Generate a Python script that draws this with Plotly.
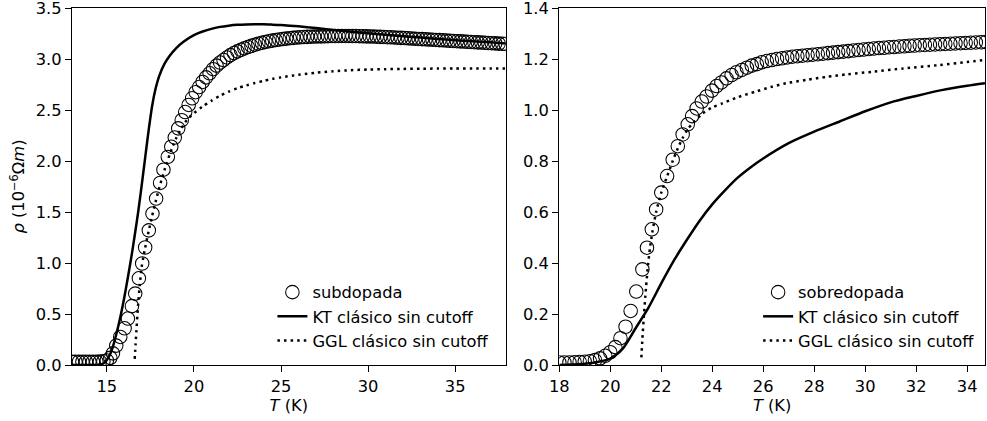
import plotly.graph_objects as go

# ---------------- data: left panel (subdopada) ----------------
sub_T = [13.0, 13.2, 13.4, 13.6, 13.8, 14.0, 14.2, 14.4, 14.6, 14.8, 15.0, 15.2,
         15.35, 15.54, 15.77, 16.02, 16.21, 16.44, 16.63, 16.84, 17.03, 17.2, 17.41, 17.62, 17.83, 18.06, 18.25,
         18.5, 18.7, 18.9, 19.1, 19.3, 19.5, 19.7, 19.9, 20.1, 20.3,
         20.5, 20.7, 20.9, 21.1, 21.3, 21.5, 21.7, 21.9, 22.1, 22.3,
         22.5, 22.7, 22.9, 23.1, 23.3, 23.5, 23.7, 23.9, 24.1, 24.3,
         24.5, 24.7, 24.9, 25.1, 25.3, 25.5, 25.7, 25.9, 26.1, 26.3,
         26.5, 26.7, 26.9, 27.1, 27.3, 27.5, 27.7, 27.9, 28.1, 28.3,
         28.5, 28.7, 28.9, 29.1, 29.3, 29.5, 29.7, 29.9, 30.1, 30.3,
         30.5, 30.7, 30.9, 31.1, 31.3, 31.5, 31.7, 31.9, 32.1, 32.3,
         32.5, 32.7, 32.9, 33.1, 33.3, 33.5, 33.7, 33.9, 34.1, 34.3,
         34.5, 34.7, 34.9, 35.1, 35.3, 35.5, 35.7, 35.9, 36.1, 36.3,
         36.5, 36.7, 36.9, 37.1, 37.3, 37.5, 37.7, 37.9]
sub_rho = [0.032, 0.032, 0.032, 0.032, 0.032, 0.032, 0.032, 0.032, 0.033, 0.036, 0.045, 0.07,
           0.114, 0.19, 0.275, 0.36, 0.455, 0.577, 0.70, 0.85, 0.995, 1.152, 1.32, 1.485, 1.632, 1.785, 1.915,
           2.04, 2.14, 2.23, 2.32, 2.40, 2.48, 2.55, 2.615, 2.675, 2.725,
           2.775, 2.82, 2.86, 2.90, 2.935, 2.965, 2.99, 3.015, 3.038, 3.058,
           3.075, 3.09, 3.104, 3.117, 3.129, 3.14, 3.15, 3.159, 3.167, 3.174,
           3.18, 3.186, 3.191, 3.196, 3.2, 3.204, 3.207, 3.21, 3.213, 3.215,
           3.217, 3.219, 3.22, 3.221, 3.222, 3.223, 3.224, 3.225, 3.225, 3.226,
           3.226, 3.226, 3.226, 3.225, 3.225, 3.224, 3.223, 3.222, 3.221, 3.22,
           3.219, 3.217, 3.216, 3.214, 3.213, 3.211, 3.209, 3.207, 3.205, 3.203,
           3.201, 3.199, 3.197, 3.195, 3.193, 3.191, 3.189, 3.187, 3.185, 3.183,
           3.181, 3.179, 3.177, 3.175, 3.173, 3.171, 3.169, 3.167, 3.165, 3.163,
           3.161, 3.159, 3.157, 3.155, 3.153, 3.151, 3.149, 3.147]

kt1_T = [13.0, 14.0, 14.4, 14.6, 14.8, 15.0, 15.2, 15.4, 15.6, 15.8, 16.0, 16.2, 16.4, 16.6, 16.8,
         17.0, 17.2, 17.4, 17.6, 17.8, 18.0, 18.3, 18.6, 19.0, 19.4, 20.0, 20.5, 21.0, 21.5, 22.0,
         22.5, 23.0, 23.5, 24.0, 24.5, 25.0, 26.0, 27.0, 28.0, 29.0, 30.0, 31.0, 32.0, 33.0, 34.0,
         35.0, 36.0, 37.0, 38.0]
kt1_rho = [0.0, 0.0, 0.001, 0.005, 0.015, 0.05, 0.11, 0.21, 0.34, 0.49, 0.66, 0.85, 1.05, 1.27, 1.5,
           1.76, 2.03, 2.3, 2.54, 2.71, 2.83, 2.95, 3.03, 3.11, 3.17, 3.235, 3.27, 3.295, 3.315, 3.327,
           3.335, 3.339, 3.34, 3.34, 3.337, 3.333, 3.32, 3.303, 3.285, 3.268, 3.252, 3.237, 3.223, 3.21, 3.197,
           3.185, 3.174, 3.163, 3.152]

g1_T = [16.6, 16.65, 16.7, 16.75, 16.8, 16.9, 17.0, 17.1, 17.2, 17.4, 17.6, 17.8, 18.0, 18.2, 18.4,
        18.6, 18.8, 19.0, 19.25, 19.5, 19.75, 20.0, 20.5, 21.0, 21.5, 22.0, 22.5, 23.0, 23.5, 24.0,
        24.5, 25.0, 26.0, 27.0, 28.0, 29.0, 30.0, 31.0, 32.0, 33.0, 34.0, 35.0, 36.0, 37.0, 38.0]
g1_rho = [0.06, 0.2, 0.34, 0.48, 0.6, 0.8, 0.96, 1.06, 1.15, 1.31, 1.46, 1.6, 1.73, 1.85, 1.96,
          2.06, 2.15, 2.23, 2.31, 2.38, 2.43, 2.47, 2.535, 2.59, 2.64, 2.68, 2.715, 2.74, 2.765, 2.785,
          2.805, 2.82, 2.845, 2.865, 2.88, 2.89, 2.897, 2.9, 2.903, 2.905, 2.906, 2.907, 2.907, 2.907, 2.907]

# ---------------- data: right panel (sobredopada) ----------------
sob_T = [18.0, 18.2, 18.4, 18.6, 18.8, 19.0, 19.2, 19.4, 19.6, 19.8, 20.0, 20.2, 20.4, 20.6, 20.8,
         21.02, 21.26, 21.44, 21.63, 21.80, 22.0, 22.23, 22.45, 22.65, 22.84,
         23.04, 23.21, 23.39, 23.59, 23.78, 23.99, 24.17, 24.36, 24.56, 24.76,
         24.95, 25.16, 25.36, 25.55, 25.75, 25.94, 26.14,
         26.34, 26.54, 26.74, 26.94, 27.14, 27.34, 27.54, 27.74, 27.94, 28.14,
         28.34, 28.54, 28.74, 28.94, 29.14, 29.34, 29.54, 29.74, 29.94, 30.14,
         30.34, 30.54, 30.74, 30.94, 31.14, 31.34, 31.54, 31.74, 31.94, 32.14,
         32.34, 32.54, 32.74, 32.94, 33.14, 33.34, 33.54, 33.74, 33.94, 34.14,
         34.34, 34.54, 34.74]
sob_rho = [0.010, 0.010, 0.010, 0.011, 0.012, 0.013, 0.015, 0.019, 0.026, 0.036, 0.050, 0.070, 0.105, 0.150, 0.212,
           0.288, 0.375, 0.46, 0.532, 0.61, 0.676, 0.741, 0.805, 0.858, 0.904,
           0.944, 0.976, 1.006, 1.033, 1.053, 1.076, 1.094, 1.108, 1.124, 1.137,
           1.148, 1.157, 1.166, 1.174, 1.180, 1.187, 1.192,
           1.196, 1.2, 1.203, 1.206, 1.209, 1.211, 1.213, 1.215, 1.217, 1.219,
           1.221, 1.223, 1.225, 1.227, 1.229, 1.231, 1.233, 1.235, 1.237, 1.239,
           1.241, 1.243, 1.244, 1.246, 1.247, 1.249, 1.250, 1.252, 1.253, 1.254,
           1.255, 1.256, 1.257, 1.258, 1.259, 1.260, 1.261, 1.262, 1.263, 1.264,
           1.265, 1.266, 1.267]

kt2_T = [18.0, 18.5, 19.0, 19.5, 20.0, 20.5, 21.0, 21.5, 22.0, 22.5, 23.0, 23.5, 24.0, 24.5, 25.0,
         25.5, 26.0, 27.0, 28.0, 29.0, 30.0, 31.0, 32.0, 33.0, 34.0, 34.7]
kt2_rho = [0.0, 0.002, 0.005, 0.012, 0.025, 0.065, 0.145, 0.225, 0.32, 0.41, 0.49, 0.565, 0.63, 0.685, 0.735,
           0.775, 0.81, 0.87, 0.915, 0.955, 0.995, 1.03, 1.055, 1.078, 1.095, 1.105]

g2_T = [21.22, 21.26, 21.31, 21.4, 21.48, 21.56, 21.65, 21.8, 22.0, 22.23, 22.45, 22.65, 22.84, 23.04, 23.3,
        23.6, 24.0, 24.4, 25.0, 25.7, 26.3, 26.9, 27.7, 28.5, 29.3, 30.3, 31.5, 32.9, 34.0, 34.7]
g2_rho = [0.03, 0.1, 0.18, 0.3, 0.39, 0.46, 0.52, 0.6, 0.675, 0.74, 0.8, 0.85, 0.89, 0.925, 0.955,
          0.985, 1.01, 1.026, 1.05, 1.072, 1.09, 1.105, 1.118, 1.13, 1.14, 1.15, 1.163, 1.176, 1.188, 1.196]

left_xticks = [15, 20, 25, 30, 35]
right_xticks = [18, 20, 22, 24, 26, 28, 30, 32, 34]
left_yticks = [0.0, 0.5, 1.0, 1.5, 2.0, 2.5, 3.0, 3.5]
left_ytext = ["0.0", "0.5", "1.0", "1.5", "2.0", "2.5", "3.0", "3.5"]
right_yticks = [0.0, 0.2, 0.4, 0.6, 0.8, 1.0, 1.2, 1.4]
right_ytext = ["0.0", "0.2", "0.4", "0.6", "0.8", "1.0", "1.2", "1.4"]

FONT = "DejaVu Sans"
FS = 16.3
MARKER = dict(symbol="circle-open", size=13.5, color="black", line=dict(width=1.05, color="black"))
SOLID = dict(color="black", width=2.5, shape="spline", smoothing=0.7)
DOTTED = dict(color="black", width=2.5, dash="2.5px,4.1px", shape="spline", smoothing=0.7)

fig = go.Figure()
# left panel
fig.add_trace(go.Scatter(x=sub_T, y=sub_rho, mode="markers", marker=MARKER, name="subdopada",
                         xaxis="x", yaxis="y", legend="legend"))
fig.add_trace(go.Scatter(x=kt1_T, y=kt1_rho, mode="lines", line=SOLID, name="KT clásico sin cutoff",
                         xaxis="x", yaxis="y", legend="legend"))
fig.add_trace(go.Scatter(x=g1_T, y=g1_rho, mode="lines", line=DOTTED, name="GGL clásico sin cutoff",
                         xaxis="x", yaxis="y", legend="legend"))
# right panel
fig.add_trace(go.Scatter(x=sob_T, y=sob_rho, mode="markers", marker=MARKER, name="sobredopada",
                         xaxis="x2", yaxis="y2", legend="legend2"))
fig.add_trace(go.Scatter(x=kt2_T, y=kt2_rho, mode="lines", line=SOLID, name="KT clásico sin cutoff",
                         xaxis="x2", yaxis="y2", legend="legend2"))
fig.add_trace(go.Scatter(x=g2_T, y=g2_rho, mode="lines", line=DOTTED, name="GGL clásico sin cutoff",
                         xaxis="x2", yaxis="y2", legend="legend2"))

axis_common = dict(showgrid=False, zeroline=False, showline=True, linecolor="black", linewidth=1.3,
                   mirror=True, ticks="outside", ticklen=6, tickwidth=1.3, tickcolor="black",
                   ticklabeloverflow="allow",
                   tickfont=dict(family=FONT, size=FS, color="black"))

L_DOM = [0.0, 0.4750]
R_DOM = [0.5337, 1.0]

fig.update_layout(
    width=987, height=421,
    margin=dict(l=72, r=2, t=8, b=56, autoexpand=False),
    paper_bgcolor="white", plot_bgcolor="white",
    font=dict(family=FONT, size=FS, color="black"),
    xaxis=dict(domain=L_DOM, range=[13, 37.9], tickvals=left_xticks, anchor="y",
               title=dict(text="<i>T</i> (K)", standoff=4, font=dict(family=FONT, size=FS)), **axis_common),
    yaxis=dict(domain=[0, 1], range=[-0.00001, 3.50001], tickvals=left_yticks, ticktext=left_ytext, anchor="x",
               title=dict(text="<i>ρ</i> (10<sup>−6</sup>Ω<i>m</i>)", standoff=6, font=dict(family=FONT, size=FS)),
               **axis_common),
    xaxis2=dict(domain=R_DOM, range=[18, 34.7], tickvals=right_xticks, anchor="y2",
                title=dict(text="<i>T</i> (K)", standoff=4, font=dict(family=FONT, size=FS)), **axis_common),
    yaxis2=dict(domain=[0, 1], range=[-0.000004, 1.400004], tickvals=right_yticks, ticktext=right_ytext, anchor="x2",
                **axis_common),
    legend=dict(x=0.2195, y=0.252, xanchor="left", yanchor="top", bgcolor="rgba(0,0,0,0)",
                borderwidth=0, font=dict(family=FONT, size=FS), tracegroupgap=0),
    legend2=dict(x=0.7515, y=0.252, xanchor="left", yanchor="top", bgcolor="rgba(0,0,0,0)",
                 borderwidth=0, font=dict(family=FONT, size=FS), tracegroupgap=0),
    showlegend=True,
)

fig.write_html("out.html")
